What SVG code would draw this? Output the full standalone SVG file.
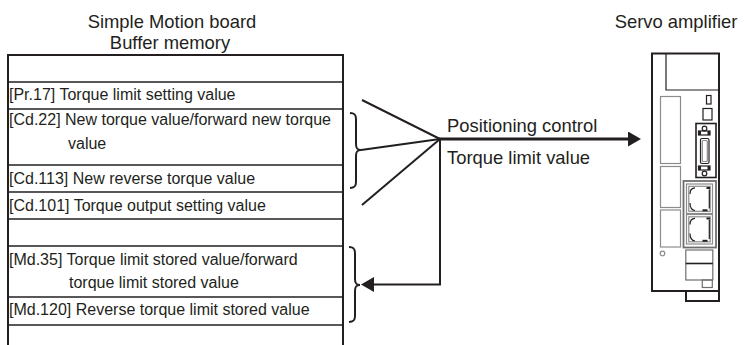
<svg xmlns="http://www.w3.org/2000/svg" width="744" height="345" viewBox="0 0 744 345">
  <style>
    .t { font-family: "Liberation Sans", Arial, sans-serif; fill: #231f20; }
    .title { font-size: 18.4px; }
    .cell { font-size: 16px; }
    .frame { fill: none; stroke: #231f20; stroke-width: 2; }
    .row { stroke: #231f20; stroke-width: 1.3; }
    .ink { fill: none; stroke: #231f20; stroke-width: 2; }
    .thin { fill: none; stroke: #231f20; stroke-width: 1.2; }
    .grey { fill: none; stroke: #8c8c8c; stroke-width: 1.2; }
  </style>
  <defs>
    <marker id="arrow" markerUnits="userSpaceOnUse" markerWidth="13" markerHeight="15" refX="5" refY="7.5" orient="auto">
      <path d="M0,0 L13,7.5 L0,15 z" fill="#231f20"/>
    </marker>
  </defs>

  <rect width="744" height="345" fill="#ffffff"/>

  <!-- Buffer memory table -->
  <g id="buffer-memory">
    <text class="t title" x="172" y="28" text-anchor="middle">Simple Motion board</text>
    <text class="t title" x="170" y="48.5" text-anchor="middle">Buffer memory</text>
    <path class="frame" d="M8,345 V55 H343 V345"/>
    <line class="row" x1="8" y1="82" x2="343" y2="82"/>
    <line class="row" x1="8" y1="109" x2="343" y2="109"/>
    <line class="row" x1="8" y1="165" x2="343" y2="165"/>
    <line class="row" x1="8" y1="192" x2="343" y2="192"/>
    <line class="row" x1="8" y1="219" x2="343" y2="219"/>
    <line class="row" x1="8" y1="246" x2="343" y2="246"/>
    <line class="row" x1="8" y1="297" x2="343" y2="297"/>
    <line class="row" x1="8" y1="325" x2="343" y2="325"/>
    <text class="t cell" x="9" y="99.5">[Pr.17] Torque limit setting value</text>
    <text class="t cell" x="9" y="124.5">[Cd.22] New torque value/forward new torque</text>
    <text class="t cell" x="68" y="148.5">value</text>
    <text class="t cell" x="9" y="183.5">[Cd.113] New reverse torque value</text>
    <text class="t cell" x="9" y="210.5">[Cd.101] Torque output setting value</text>
    <text class="t cell" x="9" y="265">[Md.35] Torque limit stored value/forward</text>
    <text class="t cell" x="69" y="288">torque limit stored value</text>
    <text class="t cell" x="9" y="315">[Md.120] Reverse torque limit stored value</text>
  </g>

  <!-- Servo amplifier -->
  <g id="servo-amplifier">
    <text class="t title" x="676" y="28" text-anchor="middle">Servo amplifier</text>
    <rect class="ink" x="652" y="53.5" width="67" height="237.5"/>
    <path class="ink" d="M686,291 V301 H719 V291"/>
    <path class="thin" d="M666,53.5 V90 H719"/>
    <!-- left slots -->
    <rect class="grey" x="660.5" y="96.5" width="20" height="67"/>
    <rect class="grey" x="660.5" y="166.5" width="20" height="41"/>
    <rect class="grey" x="660.5" y="210" width="20" height="37"/>
    <circle class="grey" cx="662.5" cy="253.5" r="2.3"/>
    <!-- indicators -->
    <rect class="thin" x="706.5" y="95.5" width="4.5" height="8.5"/>
    <rect class="thin" x="703" y="108.5" width="9" height="11.5"/>
    <!-- interface connector -->
    <rect x="696" y="123.5" width="20" height="54" fill="none" stroke="#231f20" stroke-width="1.6"/>
    <circle class="thin" cx="704.5" cy="128.5" r="2.3"/>
    <rect class="thin" x="698.5" y="131" width="11.5" height="4"/>
    <rect x="698.5" y="131" width="2.5" height="4" fill="#231f20"/>
    <rect x="707.5" y="131" width="2.5" height="4" fill="#231f20"/>
    <rect class="thin" x="700.5" y="138.5" width="8.5" height="25" rx="1.5"/>
    <rect class="grey" x="702.3" y="140.5" width="5" height="21" rx="1"/>
    <rect class="thin" x="698.5" y="166" width="11.5" height="4"/>
    <rect x="698.5" y="166" width="2.5" height="4" fill="#231f20"/>
    <rect x="707.5" y="166" width="2.5" height="4" fill="#231f20"/>
    <circle class="thin" cx="704.5" cy="173.5" r="2.3"/>
    <!-- network ports -->
    <rect x="683.5" y="181" width="32.5" height="66.5" fill="none" stroke="#6e6e6e" stroke-width="1.8"/>
    <rect class="grey" x="686.5" y="184" width="26" height="29.5"/>
    <rect class="grey" x="688.8" y="186.3" width="21.4" height="25"/>
    <path class="thin" d="M690,194 Q690,188 695,187.8 M690,203 Q690,210 695,210.5 M709.3,189.5 V208.5"/>
    <rect x="706.5" y="187" width="3.5" height="2" fill="#231f20"/>
    <rect x="702.5" y="209.3" width="5" height="2" fill="#231f20"/>
    <rect class="grey" x="686.5" y="214.5" width="26" height="29.5"/>
    <rect class="grey" x="688.8" y="216.8" width="21.4" height="25"/>
    <path class="thin" d="M690,224.5 Q690,218.5 695,218.3 M690,233.5 Q690,240.5 695,241 M709.3,220 V239"/>
    <rect x="706.5" y="217.5" width="3.5" height="2" fill="#231f20"/>
    <rect x="702.5" y="239.8" width="5" height="2" fill="#231f20"/>
    <!-- power connector -->
    <rect x="685.8" y="250" width="27" height="30" fill="none" stroke="#6e6e6e" stroke-width="1.2"/>
    <line x1="685.8" y1="263.5" x2="712.8" y2="263.5" stroke="#231f20" stroke-width="1.6"/>
    <rect x="702.3" y="280" width="10" height="7.5" fill="none" stroke="#6e6e6e" stroke-width="1.2"/>
  </g>

  <!-- Connectors -->
  <g id="connectors">
    <path class="ink" d="M350,113 C355,113 356,115 356,119 V144 C356,148 357,150 361,150 C357,150 356,152 356,156 V182 C356,186 355,188 350,188"/>
    <path class="ink" d="M349,247 C354,247 355,249 355,253 V279 C355,283 356,285 360,285 C356,285 355,287 355,291 V316 C355,320 354,322 349,322"/>
    <line class="ink" x1="362" y1="100" x2="440" y2="139"/>
    <line class="ink" x1="361" y1="150" x2="440" y2="139"/>
    <line class="ink" x1="362" y1="205" x2="440" y2="139"/>
    <line x1="439" y1="139" x2="633" y2="139" stroke="#231f20" stroke-width="2.8" marker-end="url(#arrow)"/>
    <path class="ink" d="M440,139 V284.5 H369" marker-end="url(#arrow)"/>
    <text class="t title" x="447" y="132">Positioning control</text>
    <text class="t title" x="447" y="164">Torque limit value</text>
  </g>
</svg>
